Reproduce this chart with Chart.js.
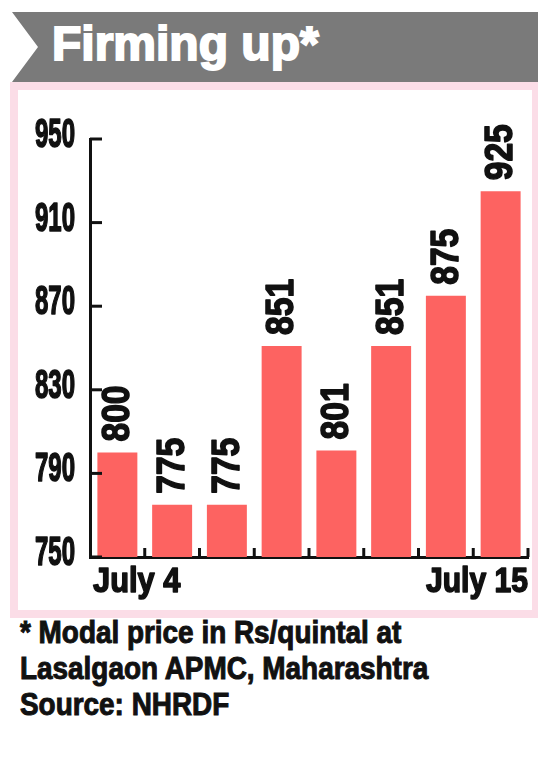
<!DOCTYPE html>
<html>
<head>
<meta charset="utf-8">
<script src="https://cdn.jsdelivr.net/npm/chart.js@4.4.0/dist/chart.umd.min.js"></script>
<style>
  body { margin: 0; background: #fff; width: 538px; height: 759px; position: relative; overflow: hidden; }
  #band { position: absolute; left: 12px; top: 12px; width: 526px; height: 70px; background: #7a7a7a;
          clip-path: polygon(0 0, 100% 0, 100% 100%, 0 100%, 26px 50%); }
  #title { position: absolute; left: 52px; top: 20px; color: #fff; font: bold 48px 'Liberation Sans', Arial, sans-serif;
           line-height: 48px; -webkit-text-stroke: 2px #fff; }
  #frame { position: absolute; left: 10px; top: 82px; width: 528px; height: 536px; box-sizing: border-box;
           border: solid #fbdde7; border-width: 8px 6px 8px 8px; background: #fff; }
  #frame canvas { position: absolute; left: 0; top: 0; }
  #note { position: absolute; left: 20px; top: 615px; font: bold 31px 'Liberation Sans', Arial, sans-serif;
          line-height: 36px; color: #111; -webkit-text-stroke: 1px #111; }
  #note span { display: block; white-space: nowrap; transform: scaleX(0.9); transform-origin: 0 0; }
</style>
</head>
<body>
<div id="band"></div>
<div id="title">Firming up*</div>
<div id="frame"><canvas id="chart" width="514" height="520"></canvas></div>
<div id="note"><span>* Modal price in Rs/quintal at</span><span>Lasalgaon APMC, Maharashtra</span><span>Source: NHRDF</span></div>
<script>
const categories = ['July 4', '', '', '', '', '', '', 'July 15'];
const prices = [800, 775, 775, 851, 801, 851, 875, 925];
const yMin = 750, yMax = 950, yStep = 40;

const sans = "'Liberation Sans', Arial, sans-serif";
const ink = '#111';

// condensed heavy text: squeezed along the text direction, with a thin stroke
function squeezed(ctx, text, px, py, sx, rot) {
  ctx.save();
  ctx.translate(px, py);
  if (rot) ctx.rotate(rot);
  ctx.scale(sx, 1);
  ctx.lineWidth = 1.6;
  ctx.lineJoin = 'round';
  ctx.fillText(text, 0, 0);
  ctx.strokeText(text, 0, 0);
  ctx.restore();
}

// inward ticks, tick labels, rotated value labels and the two date labels
const marks = {
  id: 'marks',
  afterDatasetsDraw(chart) {
    const { ctx, scales: { x, y } } = chart;
    ctx.save();
    ctx.strokeStyle = ink;
    ctx.fillStyle = ink;
    const line = (x1, y1, x2, y2) => {
      ctx.lineWidth = 3;
      ctx.beginPath(); ctx.moveTo(x1, y1); ctx.lineTo(x2, y2); ctx.stroke();
    };

    ctx.font = 'bold 40px ' + sans;
    ctx.textAlign = 'right';
    ctx.textBaseline = 'alphabetic';
    y.ticks.forEach(t => {
      const py = y.getPixelForValue(t.value);
      line(x.left, py, x.left + 12, py);
      squeezed(ctx, String(t.value), x.left - 15, py + 8, 0.6);
    });

    const n = categories.length;
    for (let i = 0; i < n; i++) {
      const px = i < n - 1 ? (x.getPixelForValue(i) + x.getPixelForValue(i + 1)) / 2 : x.right;
      line(px, y.bottom, px, y.bottom - 9);
    }

    ctx.font = 'bold 39px ' + sans;
    ctx.textAlign = 'left';
    ctx.textBaseline = 'middle';
    chart.getDatasetMeta(0).data.forEach((bar, i) => {
      squeezed(ctx, String(prices[i]), bar.x + 1, bar.y - 11, 0.86, -Math.PI / 2);
    });

    ctx.font = 'bold 35px ' + sans;
    ctx.textBaseline = 'alphabetic';
    ctx.textAlign = 'left';
    squeezed(ctx, categories[0], x.left + 3, y.bottom + 35, 0.88);
    ctx.textAlign = 'right';
    squeezed(ctx, categories[n - 1], x.right, y.bottom + 35, 0.86);
    ctx.restore();
  }
};

new Chart(document.getElementById('chart'), {
  type: 'bar',
  data: {
    labels: categories,
    datasets: [{
      data: prices,
      backgroundColor: '#fd6361',
      borderWidth: 0,
      categoryPercentage: 1,
      barPercentage: 0.73
    }]
  },
  options: {
    responsive: false,
    animation: false,
    devicePixelRatio: 1,
    layout: { padding: { top: 49, right: 4, left: 0, bottom: 0 } },
    plugins: { legend: { display: false }, tooltip: { enabled: false } },
    scales: {
      x: {
        offset: true,
        grid: { display: false, drawTicks: false },
        border: { display: true, color: ink, width: 3 },
        ticks: { display: false },
        afterFit(s) { s.height = 53; }
      },
      y: {
        min: yMin,
        max: yMax,
        grid: { display: false, drawTicks: false },
        border: { display: true, color: ink, width: 3 },
        ticks: { display: false, stepSize: yStep },
        afterFit(s) { s.width = 72; }
      }
    }
  },
  plugins: [marks]
});
</script>
</body>
</html>
